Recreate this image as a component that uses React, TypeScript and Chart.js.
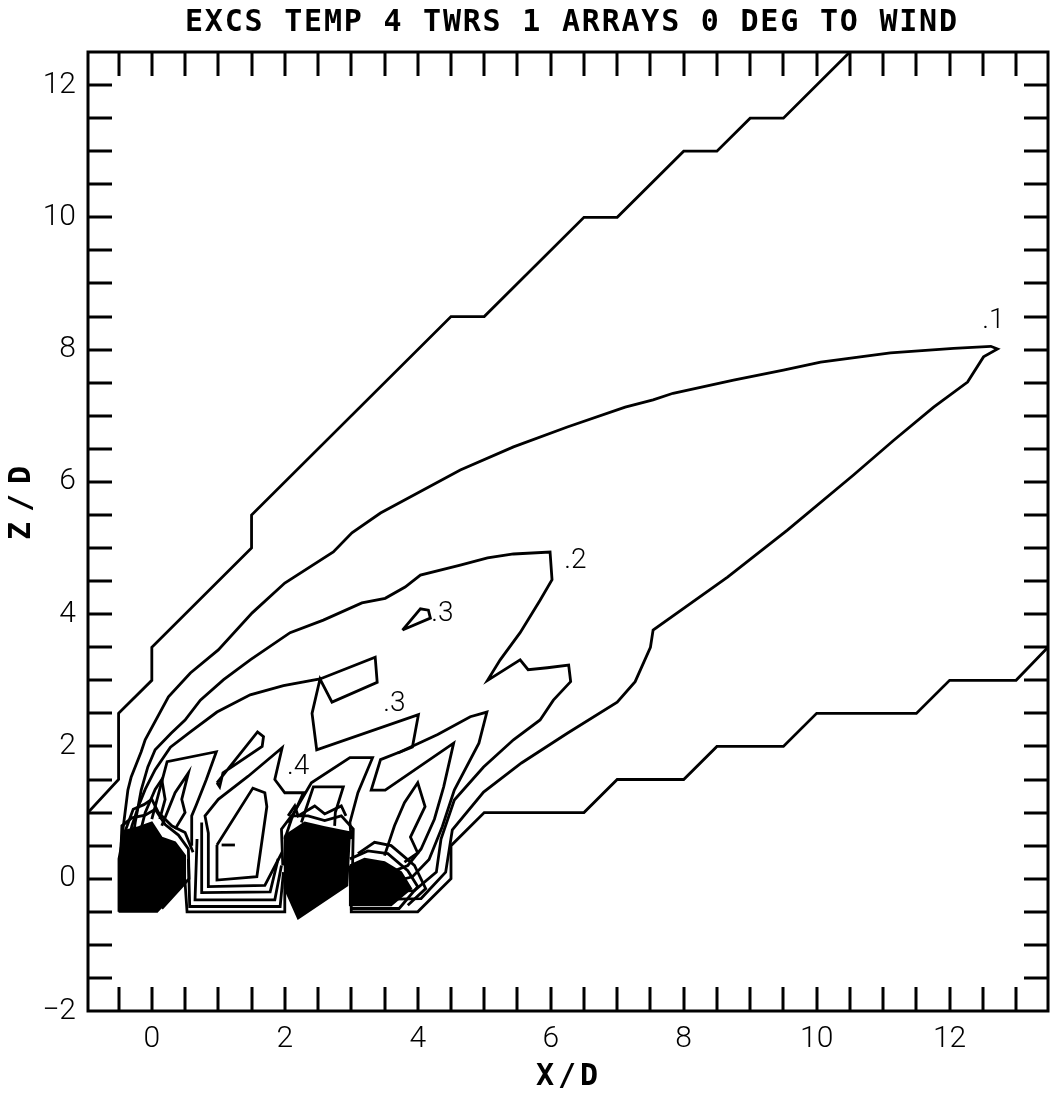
import React, { useEffect, useRef } from 'react';
import { Chart, registerables } from 'chart.js';

Chart.register(...registerables);

type P = [number, number];

// ---- text ----
const chartTitle = 'EXCS TEMP 4 TWRS 1 ARRAYS 0 DEG TO WIND';
const xAxisTitle = 'X/D';
const yAxisTitle = 'Z/D';
const xTickLabels = [0, 2, 4, 6, 8, 10, 12];
const yTickLabels = [-2, 0, 2, 4, 6, 8, 10, 12];
const xRange: P = [-0.96, 13.48];
const yRange: P = [-2, 12.5];

// contour labels
const levelLabels = ['.1', '.2', '.3', '.3', '.4'];
const levelLabelX = [12.66, 6.37, 4.37, 3.65, 2.2];
const levelLabelY = [8.43, 4.8, 4.0, 2.64, 1.69];

// ---- contour lines (X/D, Z/D) ----
const contourAUpper: P[] = [[-0.96, 1], [-0.5, 1.5], [-0.5, 2.5], [0, 3], [0, 3.5], [1.5, 5], [1.5, 5.5], [4.5, 8.5], [5, 8.5], [6.5, 10], [7, 10], [8, 11], [8.5, 11], [9, 11.5], [9.5, 11.5], [10.5, 12.5]];
const contourALower: P[] = [[13.48, 3.5], [13, 3], [12, 3], [11.5, 2.5], [10, 2.5], [9.5, 2], [8.5, 2], [8, 1.5], [7, 1.5], [6.5, 1], [5, 1], [4.5, 0.5], [4.5, 0], [4, -0.5], [3, -0.5], [3, -0.1]];
const contourB: P[] = [[-0.48, 0.05], [-0.46, 0.54], [-0.36, 1.34], [-0.31, 1.54], [-0.16, 1.92], [-0.1, 2.1], [0.25, 2.75], [0.58, 3.11], [1.0, 3.46], [1.51, 4.02], [2.0, 4.47], [2.73, 4.94], [3.01, 5.23], [3.44, 5.53], [4.64, 6.18], [5.44, 6.53], [6.25, 6.83], [7.12, 7.13], [7.54, 7.24], [7.84, 7.34], [8.75, 7.54], [9.5, 7.69], [10.06, 7.81], [11.11, 7.95], [12.06, 8.02], [12.62, 8.05], [12.72, 8.01], [12.51, 7.89], [12.27, 7.51], [11.76, 7.13], [11.16, 6.63], [10.55, 6.1], [9.56, 5.27], [8.66, 4.56], [7.54, 3.76], [7.5, 3.5], [7.27, 2.98], [7.0, 2.67], [6.25, 2.2], [5.56, 1.75], [4.99, 1.31], [4.52, 0.74], [4.42, 0.1], [4.05, -0.3], [3.1, -0.32]];
const contourC: P[] = [[-0.31, 0.45], [-0.25, 0.85], [-0.16, 1.34], [-0.06, 1.69], [0.05, 1.95], [0.29, 2.2], [0.5, 2.4], [0.73, 2.7], [1.08, 3.01], [1.48, 3.31], [2.08, 3.72], [2.58, 3.91], [3.16, 4.17], [3.51, 4.24], [3.81, 4.41], [4.04, 4.59], [4.64, 4.74], [5.05, 4.85], [5.44, 4.91], [5.99, 4.94], [6.02, 4.52], [5.84, 4.21], [5.54, 3.72], [5.24, 3.31], [5.05, 3.0], [5.54, 3.31], [5.66, 3.16], [5.95, 3.19], [6.27, 3.23], [6.3, 2.98], [6.04, 2.7], [5.84, 2.4], [5.44, 2.1], [4.99, 1.69], [4.55, 1.19], [4.35, 0.6], [4.28, 0.1], [3.95, -0.18], [3.2, -0.2]];
const contourD: P[] = [[-0.38, 0.45], [-0.3, 0.8], [-0.2, 1.1], [-0.1, 1.35], [0.05, 1.65], [0.28, 1.99], [0.58, 2.22], [0.98, 2.52], [1.48, 2.78], [1.98, 2.92], [2.53, 3.02], [3.36, 3.35], [3.39, 2.97], [2.71, 2.67], [2.53, 3.02], [2.41, 2.5], [2.48, 1.95], [4.01, 2.48], [3.92, 1.99], [3.7, 1.9]];
const contourSmallLoop: P[] = [[3.77, 3.76], [4.04, 4.08], [4.16, 4.06], [4.19, 3.94], [3.77, 3.76]];
const contourE: P[] = [[3.6, -0.05], [3.92, 0.03], [4.17, 0.29], [4.37, 0.79], [4.55, 1.34], [4.92, 2.05], [5.04, 2.52], [4.79, 2.45], [4.3, 2.18], [3.74, 1.92], [3.44, 1.8], [3.3, 1.34], [3.51, 1.34], [4.54, 2.05], [4.39, 1.39], [4.25, 0.9], [4.05, 0.45], [3.85, 0.2], [3.6, 0.1]];
const fingerT3: P[] = [[3.5, 0.35], [3.65, 0.8], [3.8, 1.15], [4.0, 1.45], [4.11, 1.09], [3.89, 0.63], [4.0, 0.39], [3.8, 0.25]];
const fingerT2Outer: P[] = [[2.05, 0.85], [2.4, 1.45], [2.98, 1.83], [3.32, 1.83], [3.1, 1.3], [2.98, 0.85], [3.0, 0.6]];
const fingerT2Inner: P[] = [[2.25, 0.85], [2.43, 1.39], [2.88, 1.39], [2.76, 1.0], [2.75, 0.8]];
const contourU2: P[] = [[1.96, 0.4], [1.7, -0.1], [0.85, -0.12], [0.85, 0.69], [0.8, 0.95], [1.0, 1.2], [1.45, 1.55], [1.96, 1.98], [1.85, 1.5], [2.0, 1.3], [2.28, 1.3], [2.1, 0.9], [2.0, 0.6]];
const contourU1: P[] = [[0.98, 0.51], [1.52, 1.37], [1.7, 1.3], [1.73, 1.09], [1.58, 0.03], [0.98, -0.02], [0.98, 0.51]];
const contourU1Tick: P[] = [[1.05, 0.51], [1.25, 0.51]];
const contourLoopL: P[] = [[0.98, 1.45], [1.59, 2.22], [1.68, 2.15], [1.66, 2.0], [1.07, 1.6], [1.02, 1.39], [0.98, 1.45]];
const fingerT1Outer: P[] = [[0.0, 0.9], [0.23, 1.77], [0.97, 1.92], [0.82, 1.5], [0.67, 1.12], [0.6, 0.95], [0.6, 0.5]];
const fingerT1Inner: P[] = [[0.15, 0.8], [0.35, 1.3], [0.55, 1.6], [0.45, 1.2], [0.5, 1.0], [0.35, 0.75]];
const fingerT1Core: P[] = [[-0.2, 0.6], [-0.1, 1.0], [0.05, 1.35], [0.15, 1.5], [0.2, 1.2], [0.12, 0.9]];
const contourU3: P[] = [[0.75, 0.85], [0.75, -0.21], [1.78, -0.2], [1.9, 0.3]];
const contourU4: P[] = [[0.68, 0.6], [0.65, -0.32], [1.85, -0.32], [1.95, 0.2]];
const contourU5: P[] = [[0.55, 0.3], [0.57, -0.42], [1.93, -0.42], [1.98, 0.1]];
const contourU6: P[] = [[0.5, -0.06], [0.53, -0.5], [2.0, -0.5], [2.0, 0.0]];

// shells hugging the dense cores
const shell1a: P[] = [[-0.47, 0.3], [-0.45, 0.8], [-0.3, 0.92], [-0.1, 0.96], [0.05, 1.05], [0.2, 0.82], [0.4, 0.66], [0.55, 0.45], [0.56, 0.0], [0.15, -0.45]];
const shell1b: P[] = [[-0.4, 0.72], [-0.28, 1.05], [-0.12, 1.12], [0.0, 1.2], [0.1, 1.0], [0.3, 0.8], [0.5, 0.7], [0.62, 0.4]];
const shell2a: P[] = [[1.97, 0.2], [1.95, 0.75], [2.1, 0.95], [2.35, 0.95], [2.6, 0.88], [2.85, 0.95], [3.03, 0.75], [3.02, 0.2]];
const shell2b: P[] = [[2.05, 0.95], [2.15, 1.1], [2.2, 0.95], [2.45, 1.1], [2.6, 0.98], [2.85, 1.1], [2.92, 0.95]];
const shell3a: P[] = [[2.98, 0.3], [3.25, 0.42], [3.55, 0.38], [3.85, 0.12], [4.0, -0.12], [3.72, -0.45], [2.98, -0.45]];
const shell3b: P[] = [[3.1, 0.38], [3.35, 0.55], [3.6, 0.5], [3.95, 0.2], [4.12, -0.15], [3.85, -0.4]];

// dense cores near the tower tops
const core1: P[] = [[-0.5, -0.5], [0.08, -0.5], [0.5, -0.05], [0.5, 0.35], [0.35, 0.55], [0.15, 0.62], [0.0, 0.85], [-0.2, 0.78], [-0.42, 0.72], [-0.5, 0.3], [-0.5, -0.5]];
const core2: P[] = [[2.0, 0.65], [2.0, -0.15], [2.2, -0.6], [2.94, -0.1], [2.98, 0.7], [2.6, 0.78], [2.3, 0.85], [2.0, 0.65]];
const core3: P[] = [[2.98, 0.2], [2.98, -0.4], [3.6, -0.4], [3.9, -0.15], [3.75, 0.1], [3.5, 0.25], [3.2, 0.3], [2.98, 0.2]];

const contourLines: P[][] = [
  contourAUpper, contourALower, contourB, contourC, contourD, contourSmallLoop, contourE,
  fingerT3, fingerT2Outer, fingerT2Inner, contourU2, contourU1, contourU1Tick, contourLoopL,
  fingerT1Outer, fingerT1Inner, fingerT1Core, contourU3, contourU4, contourU5, contourU6,
  shell1a, shell1b, shell2a, shell2b, shell3a, shell3b,
];
const coreShapes: P[][] = [core1, core2, core3];

const tickFont = { family: 'Roboto, "DejaVu Sans", sans-serif', size: 30, weight: 300 as const };
const fmt = (v: number) => (v < 0 ? '\u2212' + Math.abs(v) : String(v));

const framePlugin = {
  id: 'frame',
  afterDraw(chart: any) {
    const { ctx, chartArea: a } = chart;
    const xs = chart.scales.x;
    const ys = chart.scales.y;
    ctx.save();
    ctx.strokeStyle = '#000';
    ctx.fillStyle = '#000';
    ctx.lineWidth = 3;
    ctx.strokeRect(a.left, a.top, a.right - a.left, a.bottom - a.top);
    const TL = 24;
    ctx.beginPath();
    for (let v = -0.5; v <= 13.01; v += 0.5) {
      const px = Math.round(xs.getPixelForValue(v));
      ctx.moveTo(px, a.bottom); ctx.lineTo(px, a.bottom - TL);
      ctx.moveTo(px, a.top); ctx.lineTo(px, a.top + TL);
    }
    for (let v = -1.5; v <= 12.01; v += 0.5) {
      const py = Math.round(ys.getPixelForValue(v));
      ctx.moveTo(a.left, py); ctx.lineTo(a.left + TL, py);
      ctx.moveTo(a.right, py); ctx.lineTo(a.right - TL, py);
    }
    ctx.stroke();

    // contour labels
    ctx.font = '300 28px Roboto, "DejaVu Sans", sans-serif';
    ctx.textAlign = 'center';
    ctx.textBaseline = 'middle';
    levelLabels.forEach((t, i) => {
      ctx.fillText(t, xs.getPixelForValue(levelLabelX[i]), ys.getPixelForValue(levelLabelY[i]));
    });

    const drawSpaced = (text: string, cx: number, cy: number, width: number, rot: number) => {
      ctx.save();
      ctx.translate(cx, cy);
      ctx.rotate(rot);
      ctx.font = 'bold 30px "DejaVu Sans Mono", monospace';
      (ctx as any).letterSpacing = '0px';
      const w0 = ctx.measureText(text).width;
      const sp = Math.max(0, (width - w0) / Math.max(1, text.length - 1));
      (ctx as any).letterSpacing = sp + 'px';
      ctx.textAlign = 'left';
      ctx.textBaseline = 'middle';
      ctx.fillText(text, -width / 2, 0);
      ctx.restore();
    };
    drawSpaced(chartTitle, 571, 23, 772, 0);
    drawSpaced(xAxisTitle, 567, 1077, 62, 0);
    drawSpaced(yAxisTitle, 22, 503, 74, -Math.PI / 2);
    ctx.restore();
  },
};

export default function App() {
  const ref = useRef<HTMLCanvasElement>(null);
  useEffect(() => {
    document.body.style.margin = '0';
    const canvas = ref.current!;
    const datasets: any[] = [];
    coreShapes.forEach((s) => {
      datasets.push({
        data: s.map(([x, y]) => ({ x, y })),
        showLine: true,
        borderColor: '#000',
        backgroundColor: '#000',
        borderWidth: 2,
        pointRadius: 0,
        fill: 'shape',
      });
    });
    contourLines.forEach((s) => {
      datasets.push({
        data: s.map(([x, y]) => ({ x, y })),
        showLine: true,
        borderColor: '#000',
        borderWidth: 2.8,
        pointRadius: 0,
        fill: false,
        tension: 0,
      });
    });
    const chart = new Chart(canvas, {
      type: 'scatter',
      data: { datasets },
      options: {
        responsive: false,
        animation: false,
        events: [],
        layout: { padding: { top: 52, right: 5, left: 0, bottom: 0 } },
        plugins: { legend: { display: false }, tooltip: { enabled: false }, title: { display: false } },
        scales: {
          x: {
            type: 'linear',
            min: xRange[0],
            max: xRange[1],
            grid: { display: false, drawTicks: false },
            border: { display: false },
            afterBuildTicks: (s: any) => { s.ticks = xTickLabels.map((v) => ({ value: v })); },
            afterFit: (s: any) => { s.height = 88; },
            ticks: { padding: 10, color: '#000', font: tickFont, autoSkip: false, maxRotation: 0, callback: (v: any) => fmt(Number(v)) },
          },
          y: {
            type: 'linear',
            min: yRange[0],
            max: yRange[1],
            grid: { display: false, drawTicks: false },
            border: { display: false },
            afterBuildTicks: (s: any) => { s.ticks = yTickLabels.map((v) => ({ value: v })); },
            afterFit: (s: any) => { s.width = 88; },
            ticks: { padding: 12, color: '#000', font: tickFont, autoSkip: false, callback: (v: any) => fmt(Number(v)) },
          },
        },
      } as any,
      plugins: [framePlugin],
    });
    return () => chart.destroy();
  }, []);
  return <canvas ref={ref} width={1053} height={1099} style={{ display: 'block' }} />;
}
